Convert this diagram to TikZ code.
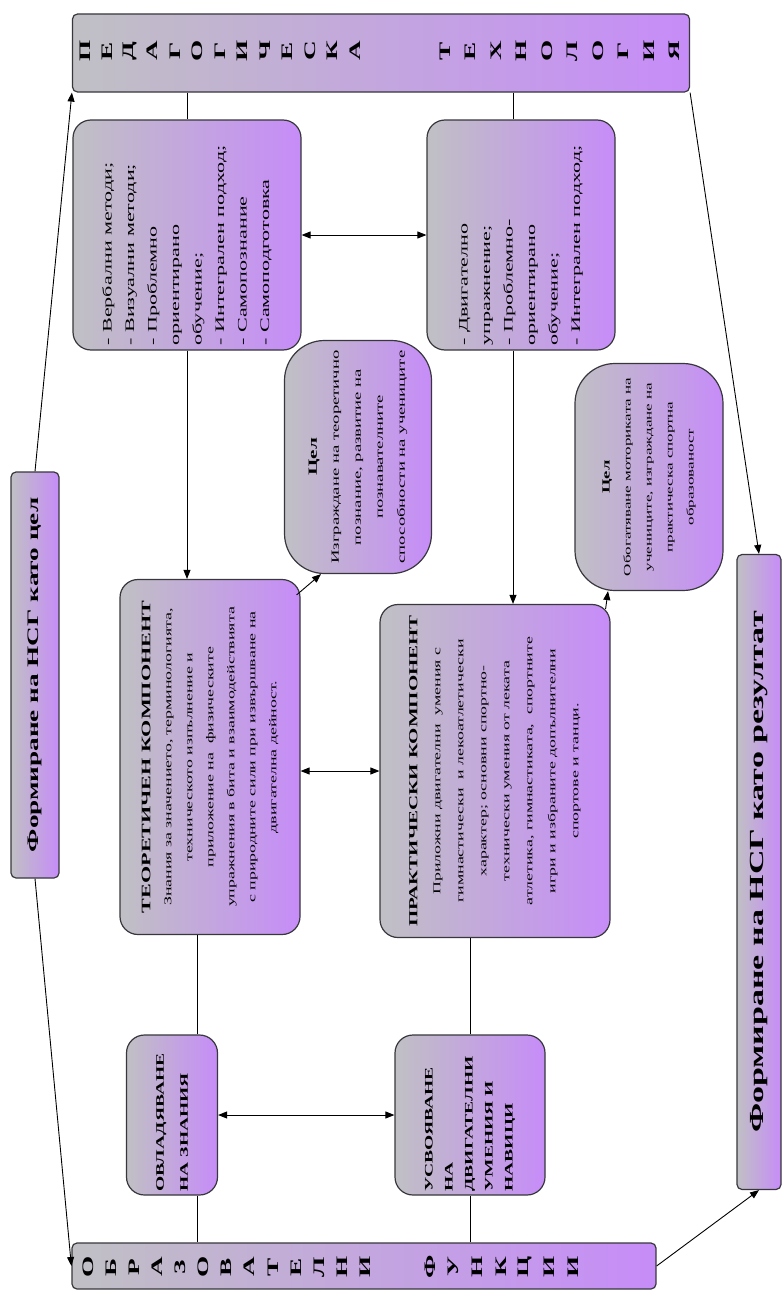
\documentclass[tikz,border=0pt]{standalone}
\usepackage{fontspec}
\setmainfont{Liberation Serif}
\usepackage{graphicx}
\usetikzlibrary{arrows.meta}

\definecolor{boxgray}{RGB}{192,192,196}
\definecolor{boxviolet}{RGB}{198,140,248}
\definecolor{edgegray}{RGB}{55,55,60}

% turned text: reads upwards, stretched along the reading direction
\newcommand{\turn}[2]{\scalebox{1}[1.7]{\rotatebox{90}{\parbox{#1}{#2}}}}
\newcommand{\turnl}[1]{\scalebox{1}[1.7]{\rotatebox{90}{#1}}}

\tikzset{
  box/.style={draw=edgegray, line width=1.2pt, left color=boxgray, right color=boxviolet,
    rounded corners=18pt, inner sep=0pt},
  bar/.style={box, rounded corners=5pt},
  oval/.style={box, rounded corners=40pt},
  link/.style={line width=0.9pt},
  arr/.style={link, -{Triangle[length=9pt,width=7pt]}},
  darr/.style={link, {Triangle[length=9pt,width=7pt]}-{Triangle[length=9pt,width=7pt]}},
  letter/.style={inner sep=0pt, font=\fontsize{16}{16}\selectfont\bfseries}
}

\begin{document}
\begin{tikzpicture}[x=1pt,y=-1pt]
\useasboundingbox (0,0) rectangle (784,1290);

% bars
\node[bar, minimum width=617pt, minimum height=78pt] (pedtech) at (381,53) {};
\node[bar, minimum width=584pt, minimum height=46pt] (funcs) at (364,1266) {};
\node[bar, minimum width=48pt, minimum height=406pt] (goal) at (35,675)
  {\turnl{\fontsize{16}{16}\selectfont\bfseries Формиране на НСГ като цел}};
\node[bar, minimum width=44pt, minimum height=635pt] (result) at (759,872)
  {\turnl{\fontsize{20}{20}\selectfont\bfseries Формиране на НСГ като резултат}};

\foreach \c [count=\i from 0] in {П,Е,Д,А,Г,О,Г,И,Ч,Е,С,К,А}
  \node[letter] (ped-\i) at ({85+22.5*\i},51) {\turnl{\c}};
\foreach \c [count=\i from 0] in {Т,Е,Х,Н,О,Л,О,Г,И,Я}
  \node[letter] (tech-\i) at ({445+25.5*\i},51) {\turnl{\c}};
\foreach \c [count=\i from 0] in {О,Б,Р,А,З,О,В,А,Т,Е,Л,Н,И}
  \node[letter] (obr-\i) at ({88+23.1*\i},1267) {\turnl{\c}};
\foreach \c [count=\i from 0] in {Ф,У,Н,К,Ц,И,И}
  \node[letter] (fun-\i) at ({430+23.8*\i},1267) {\turnl{\c}};

% methods
\node[box, minimum width=228pt, minimum height=230pt] (verbal) at (187,235)
  {\turn{130pt}{\raggedright\fontsize{13}{22.5}\selectfont
   - Вербални методи;\\ - Визуални методи;\\ - Проблемно\\ ориентирано\\ обучение;\\
   - Интегрален подход;\\ - Самопознание\\ - Самоподготовка\par}};
\node[box, minimum width=188pt, minimum height=230pt] (motor) at (521,235)
  {\turn{130pt}{\raggedright\fontsize{13}{22.5}\selectfont
   - Двигателно\\ упражнение;\\ - Проблемно-\\ ориентирано\\ обучение;\\
   - Интегрален подход;\par}};

% aims
\node[oval, minimum width=147pt, minimum height=233pt] (aim1) at (358,457)
  {\turn{134pt}{\centering\fontsize{11}{22}\selectfont
   {\fontsize{12.5}{22}\selectfont\bfseries Цел}\\ Изграждане на теоретично\\ познание, развитие на\\
   познавателните\\ способности на учениците\par}};
\node[oval, minimum width=148pt, minimum height=227pt] (aim2) at (649,477)
  {\turn{130pt}{\centering\fontsize{10}{21}\selectfont
   {\fontsize{11}{21}\selectfont\bfseries Цел}\\ Обогатяване моториката на\\ учениците, изграждане на\\
   практическа спортна\\ образованост\par}};

% components
\node[box, minimum width=180pt, minimum height=355pt] (theory) at (210,757)
  {\turn{205pt}{\centering{\fontsize{13}{22}\selectfont\bfseries ТЕОРЕТИЧЕН КОМПОНЕНТ}\\
   \fontsize{10.5}{21}\selectfont
   Знания за значението, терминологията,\\ техническото изпълнение и\\
   приложение на \ физическите\\ упражнения в бита и взаимодействията\\
   с природните сили при извършване на\\ двигателна дейност.\par}};
\node[box, minimum width=230pt, minimum height=333pt] (practice) at (495,771)
  {\turn{192pt}{\centering{\fontsize{12.3}{22}\selectfont\bfseries ПРАКТИЧЕСКИ КОМПОНЕНТ}\\
   \fontsize{10.5}{23}\selectfont
   Приложни двигателни \ умения с\\ гимнастически \ и лекоатлетически\\
   характер; основни спортно-\\ технически умения от леката\\
   атлетика, гимнастиката, \ спортните\\ игри и избраните допълнителни\\
   спортове и танци.\par}};

% results
\node[box, minimum width=91pt, minimum height=160pt] (knowledge) at (172,1115)
  {\turn{90pt}{\raggedright\fontsize{11.5}{24}\selectfont\bfseries ОВЛАДЯВАНЕ\\ НА ЗНАНИЯ\par}};
\node[box, minimum width=150pt, minimum height=160pt] (skills) at (470,1115)
  {\turn{90pt}{\raggedright\fontsize{11.5}{20}\selectfont\bfseries УСВОЯВАНЕ\\ НА\\ ДВИГАТЕЛНИ\\ УМЕНИЯ И\\ НАВИЦИ\par}};

% connectors
\draw[link] (pedtech.south -| verbal.north) -- (verbal.north);
\draw[link] ([xshift=-8pt]pedtech.south -| motor.north) -- ([xshift=-8pt]motor.north);
\draw[darr] (verbal.east) -- (motor.west);
\draw[arr] (verbal.south) -- (verbal.south |- theory.north);
\draw[arr] ([xshift=-8pt]motor.south) -- ([xshift=-8pt]motor.south |- practice.north);
\draw[darr] (practice.west -| theory.east) -- (practice.west);
\draw[arr] ([xshift=-4pt,yshift=-16pt]theory.north east) -- ([xshift=-37pt]aim1.south);
\draw[arr] ([xshift=-5pt,yshift=-5pt]practice.north east) -- ([xshift=-41pt]aim2.south);
\draw[link] ([xshift=25pt]knowledge.north) -- ([xshift=25pt]knowledge.north |- theory.south);
\draw[link] ([xshift=25pt]knowledge.south) -- ([xshift=25pt]knowledge.south |- funcs.north);
\draw[link] (skills.north) -- (skills.north |- practice.south);
\draw[link] (skills.south) -- (skills.south |- funcs.north);
\draw[darr] (knowledge.east) -- (skills.west);

\draw[arr] (goal.north) -- (pedtech.south west);
\draw[arr] (goal.south) -- (funcs.west);
\draw[arr] (pedtech.south east) -- (result.north);
\draw[arr] (funcs.east) -- (result.south);
\end{tikzpicture}
\end{document}
